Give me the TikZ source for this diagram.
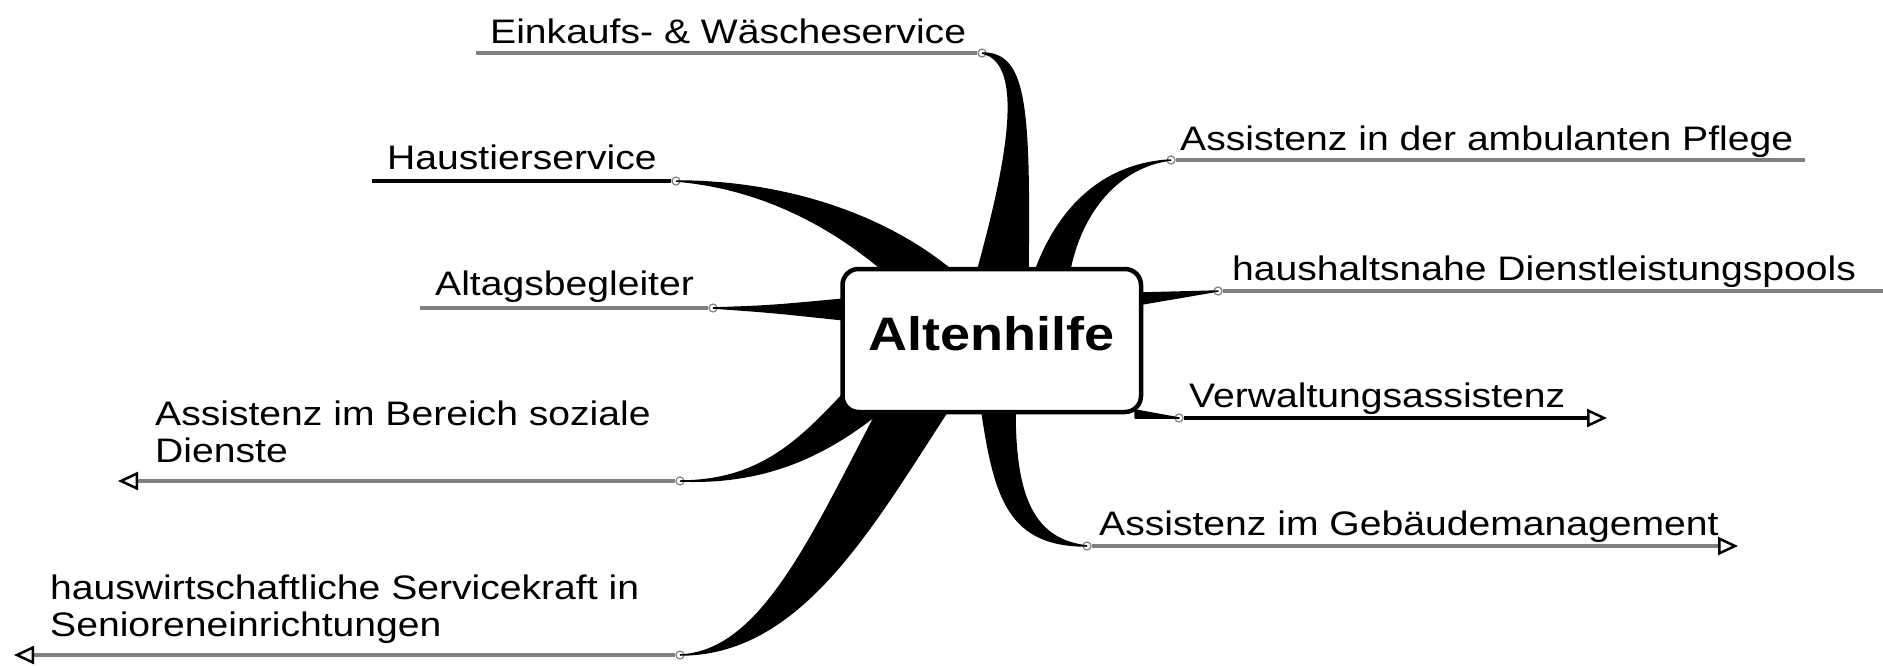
\documentclass[tikz,border=0pt]{standalone}
\usepackage{fontspec}
\setmainfont{Liberation Sans}[FakeStretch=1.15]
\usetikzlibrary{arrows.meta}
\definecolor{ulgrey}{HTML}{808080}
\begin{document}
\begin{tikzpicture}[x=1pt,y=-1pt,
  lbl/.style={font=\fontsize{34}{37}\selectfont, anchor=base west, inner sep=0pt, align=left},
  ul/.style={line width=4.5pt, draw=ulgrey},
  ulb/.style={line width=3.5pt, draw=black},
  wedge/.style={fill=black, draw=black, line width=1.5pt, line join=round},
  dot/.style={circle, draw=ulgrey, fill=white, line width=1.2pt, inner sep=0pt, minimum size=8pt},
  tip/.style={-{Triangle[length=20pt,width=18pt,fill=white,color=black,line width=2.5pt]}}
]
\useasboundingbox (0,0) rectangle (1883,665);
\fill[white] (0,0) rectangle (1883,665);

% junction dots on the branch lines
\node[dot] (d1) at (982,53) {};
\node[dot] (d2) at (676,181) {};
\node[dot] (d3) at (713,308) {};
\node[dot] (d4) at (680,481) {};
\node[dot] (d5) at (680,655) {};
\node[dot] (d6) at (1171,160) {};
\node[dot] (d7) at (1218,291) {};
\node[dot] (d8) at (1179,418) {};
\node[dot] (d9) at (1087,546) {};

% free ends of the branch lines
\coordinate (e1) at (476,53);
\coordinate (e2) at (372,181);
\coordinate (e3) at (420,308);
\coordinate (e4) at (118,481);
\coordinate (e5) at (14,655);
\coordinate (e6) at (1805,160);
\coordinate (e7) at (1883,291);
\coordinate (e8) at (1607,418);
\coordinate (e9) at (1738,546);

% tapered connectors
\filldraw[wedge] (d1.center) .. controls (1025,53) and (1030,100) .. (1028,269) -- (978,269) .. controls (1008,160) and (1026,62) .. (d1.center);
\filldraw[wedge] (d2.center) .. controls (780,181) and (880,212) .. (950,269) -- (885,272) .. controls (830,225) and (760,188) .. (d2.center);
\filldraw[wedge] (d3.center) .. controls (770,306) .. (845,299) -- (845,320) .. controls (770,312) .. (d3.center);
\filldraw[wedge] (d4.center) .. controls (760,481) and (800,440) .. (845,392) -- (880,412) .. controls (820,460) and (760,484) .. (d4.center);
\filldraw[wedge] (d5.center) .. controls (760,652) and (810,540) .. (877,412) -- (947,412) .. controls (870,530) and (800,655) .. (d5.center);
\filldraw[wedge] (d6.center) .. controls (1110,163) and (1062,200) .. (1036,269) -- (1070,269) .. controls (1082,210) and (1120,166) .. (d6.center);
\filldraw[wedge] (d7.center) -- (1142,293) -- (1142,304) -- cycle;
\filldraw[wedge] (d8.center) -- (1135,410) -- (1135,418) -- cycle;
\filldraw[wedge] (d9.center) .. controls (1010,546) and (995,500) .. (982,412) -- (1015,412) .. controls (1015,500) and (1035,540) .. (d9.center);

% central topic
\node[draw, line width=4.5pt, rounded corners=16pt, fill=white, minimum width=298.5pt, minimum height=143pt, inner sep=0pt, text depth=14pt,
  font=\fontsize{47}{47}\selectfont\bfseries] (hub) at (991.75,340.5) {Altenhilfe};

% branch lines
\draw[ul] (d1) -- (e1);
\draw[ulb] (d2) -- (e2);
\draw[ul] (d3) -- (e3);
\draw[ul,tip] (d4) -- (e4);
\draw[ul,tip] (d5) -- (e5);
\draw[ul] (d6) -- (e6);
\draw[ul] (d7) -- (e7);
\draw[ulb,tip] (d8) -- (e8);
\draw[ul,tip] (d9) -- (e9);

% labels
\node[lbl] (t1) at (490,43) {Einkaufs- \& Wäscheservice};
\node[lbl] (t2) at (387,169) {Haustierservice};
\node[lbl] (t3) at (435,295) {Altagsbegleiter};
\node[lbl] (t4) at (155,462) {Assistenz im Bereich soziale\\Dienste};
\node[lbl] (t5) at (50,636) {hauswirtschaftliche Servicekraft in\\Senioreneinrichtungen};
\node[lbl] (t6) at (1180,150) {Assistenz in der ambulanten Pflege};
\node[lbl] (t7) at (1232,280) {haushaltsnahe Dienstleistungspools};
\node[lbl] (t8) at (1189,407) {Verwaltungsassistenz};
\node[lbl] (t9) at (1099,535) {Assistenz im Gebäudemanagement};
\end{tikzpicture}
\end{document}
